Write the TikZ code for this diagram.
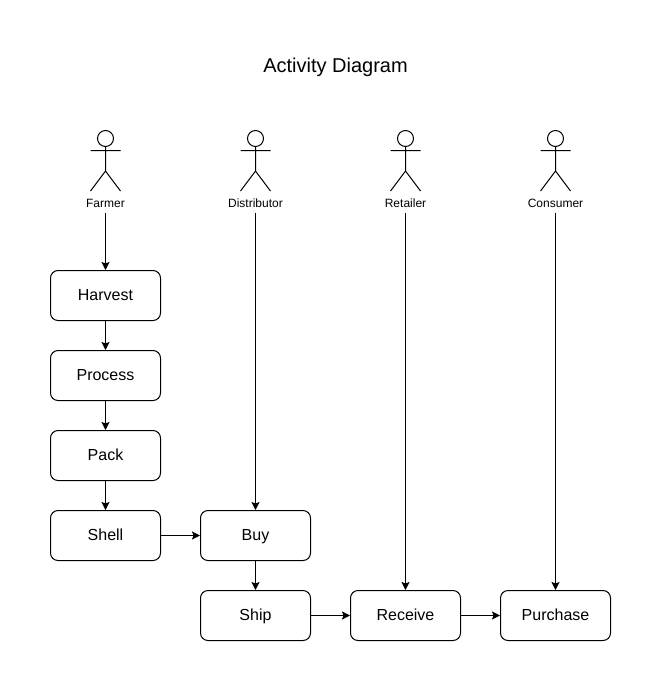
\documentclass[tikz,border=0pt]{standalone}
\usepackage{fontspec}
\setmainfont{Liberation Sans}
\usetikzlibrary{arrows.meta}
\tikzset{
  actbox/.style={draw, line width=1pt, rounded corners=7.5pt, minimum width=110pt, minimum height=50pt, inner sep=0pt, text height=12.5pt, text depth=2.5pt, font=\fontsize{16}{18}\selectfont},
  actorlabel/.style={inner sep=0pt, minimum height=17pt, text height=10pt, text depth=2.5pt, font=\fontsize{12}{14}\selectfont},
  flow/.style={line width=1pt, -{Stealth[length=8pt, width=8pt, inset=1.5pt]}}
}
\begin{document}
\begin{tikzpicture}[x=1pt, y=-1pt]
  \useasboundingbox (-0.5,-0.5) rectangle (660.5,690.5);
  \node[font=\fontsize{20}{24}\selectfont] (title) at (335,67) {Activity Diagram};
  % stick figures with their labels
  \foreach \who/\txt/\x in {farmer/Farmer/105, distributor/Distributor/255, retailer/Retailer/405, consumer/Consumer/555} {
    \begin{scope}[xshift=\x pt, line width=1pt]
      \draw (0,138) circle (8);
      \draw (0,146) -- (0,170.5) (-15,150) -- (15,150) (-15,190.5) -- (0,170.5) -- (15,190.5);
    \end{scope}
    \node[actorlabel] (\who) at (\x,203.5) {\txt};
  }
  % activities
  \foreach \name/\txt/\x/\y in {harvest/Harvest/105/295, process/Process/105/375, pack/Pack/105/455, shell/Shell/105/535, buy/Buy/255/535, ship/Ship/255/615, receive/Receive/405/615, purchase/Purchase/555/615} {
    \node[actbox] (\name) at (\x,\y) {\txt};
  }
  \foreach \from/\to in {farmer/harvest, harvest/process, process/pack, pack/shell, shell/buy, distributor/buy, buy/ship, ship/receive, retailer/receive, receive/purchase, consumer/purchase} {
    \draw[flow] (\from) -- (\to);
  }
\end{tikzpicture}
\end{document}
